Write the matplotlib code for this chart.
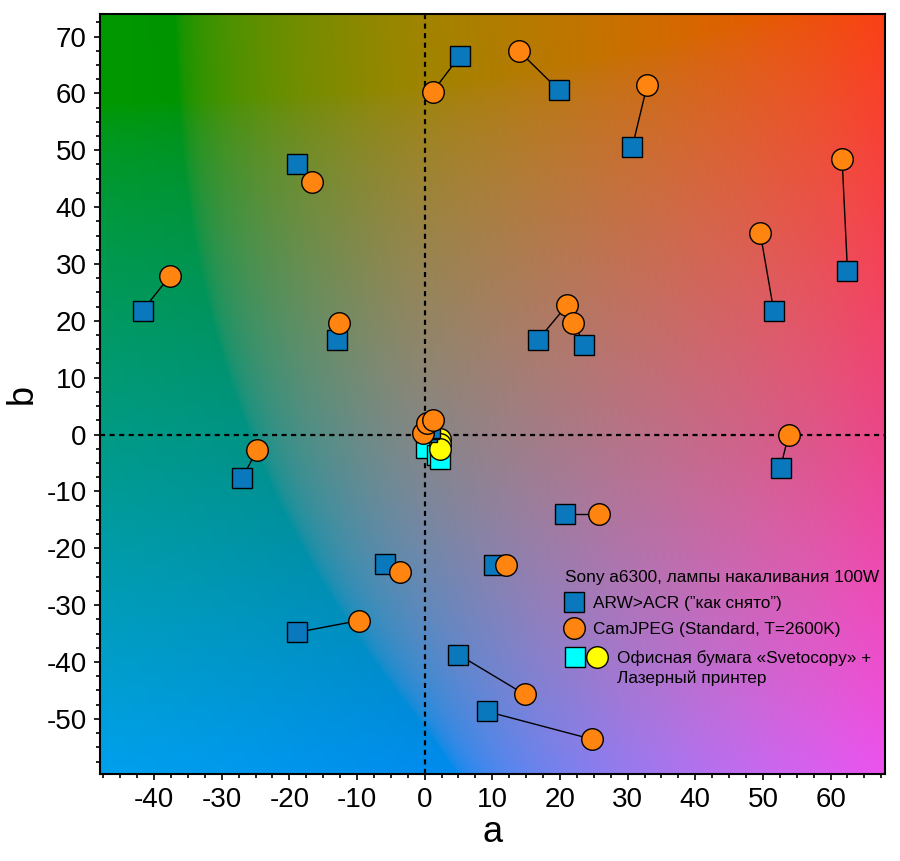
import numpy as np
import matplotlib
matplotlib.use("Agg")
import matplotlib.pyplot as plt
from matplotlib.lines import Line2D
from matplotlib.legend_handler import HandlerTuple
from matplotlib.ticker import MultipleLocator

plt.rcParams['font.family'] = ['Liberation Sans', 'DejaVu Sans']
plt.rcParams['axes.unicode_minus'] = False

# ARW>ACR (squares) and CamJPEG (circles), pairwise
arw_a = [5.2, 19.8, 30.7, -18.9, 62.5, 51.6, -41.7, -13.0, 16.8, 23.6, 52.6, -27.0, 20.8, -5.9, 10.2, -18.9, 5.0, 9.2, 0.3, 0.6, 0.8]
arw_b = [66.6, 60.6, 50.6, 47.5, 28.8, 21.8, 21.8, 16.7, 16.7, 15.8, -5.8, -7.7, -13.9, -22.7, -23.0, -34.8, -38.7, -48.7, 0.5, 1.0, 1.2]
jpg_a = [1.2, 13.9, 32.9, -16.7, 61.7, 49.6, -37.7, -12.7, 21.0, 22.0, 53.8, -24.8, 25.7, -3.7, 12.0, -9.7, 14.8, 24.8, -0.2, 0.3, 1.2]
jpg_b = [60.3, 67.5, 61.5, 44.5, 48.5, 35.5, 27.8, 19.7, 22.7, 19.7, 0.0, -2.8, -13.9, -24.1, -23.0, -32.7, -45.7, -53.6, 0.2, 2.0, 2.6]

# office paper + laser printer
paper_sq_a = [0.2, 1.8, 2.2]
paper_sq_b = [-2.3, -3.6, -4.3]
paper_ci_a = [2.2, 2.3, 2.2]
paper_ci_b = [-0.7, -1.6, -2.5]

xlim = (-48, 68)
ylim = (-59.7, 74)


def lab_to_rgb(L, a, b):
    fy = (L + 16) / 116.0
    fx = fy + a / 500.0
    fz = fy - b / 200.0
    d = 6 / 29.0
    finv = lambda t: np.where(t > d, t ** 3, 3 * d * d * (t - 4 / 29.0))
    X = 0.95047 * finv(fx)
    Y = finv(fy) * np.ones_like(a)
    Z = 1.08883 * finv(fz)
    r = 3.2406 * X - 1.5372 * Y - 0.4986 * Z
    g = -0.9689 * X + 1.8758 * Y + 0.0415 * Z
    bb = 0.0557 * X - 0.2040 * Y + 1.0570 * Z
    # the original background loses red faster on the green side,
    # and keeps more red on the magenta side
    r = r - 0.00265 * np.clip(-a, 0, None) * (1 + 0.004 * b)
    r = r + 7e-5 * np.clip(a, 0, None) * np.clip(-b, 0, None)
    bb = bb + 3e-6 * np.clip(a, 0, None) * np.clip(b, 0, None)
    rgb = np.clip(np.dstack([r, g, bb]), 0, 1)
    rgb = np.where(rgb <= 0.0031308, 12.92 * rgb, 1.055 * rgb ** (1 / 2.4) - 0.055)
    return np.clip(rgb, 0, 1)


ga, gb = np.meshgrid(np.linspace(xlim[0], xlim[1], 500), np.linspace(ylim[0], ylim[1], 500))
bg = lab_to_rgb(56.0, ga, gb)

fig = plt.figure(figsize=(9, 8.61), dpi=100)
ax = fig.add_axes([0.111, 0.101, 0.872, 0.883])
ax.imshow(bg, extent=(xlim[0], xlim[1], ylim[0], ylim[1]), origin='lower',
          aspect='auto', interpolation='bilinear', zorder=0)

ax.axhline(0, color='black', lw=1.6, dashes=(2.3, 2.0), zorder=1)
ax.axvline(0, color='black', lw=1.6, dashes=(2.3, 2.0), zorder=1)

for xa, ya, xb, yb in zip(arw_a, arw_b, jpg_a, jpg_b):
    ax.plot([xa, xb], [ya, yb], color='black', lw=1.0, zorder=3)

blue = '#0a78bd'
orange = '#ff8410'
ax.plot(paper_sq_a, paper_sq_b, 's', ms=14.5, mfc='#00ffff', mec='black', mew=1.0, ls='none', zorder=4)
ax.plot(paper_ci_a, paper_ci_b, 'o', ms=15.5, mfc='#ffff00', mec='black', mew=1.0, ls='none', zorder=5)
ax.plot(arw_a, arw_b, 's', ms=14.5, mfc=blue, mec='black', mew=1.0, ls='none', zorder=6)
ax.plot(jpg_a, jpg_b, 'o', ms=15.5, mfc=orange, mec='black', mew=1.0, ls='none', zorder=7)

ax.set_xlim(xlim)
ax.set_ylim(ylim)
ax.xaxis.set_major_locator(MultipleLocator(10))
ax.xaxis.set_minor_locator(MultipleLocator(2.5))
ax.yaxis.set_major_locator(MultipleLocator(10))
ax.yaxis.set_minor_locator(MultipleLocator(2.5))
ax.tick_params(which='major', direction='out', length=4.5, width=1.2, labelsize=20, pad=5)
ax.tick_params(which='minor', direction='out', length=3, width=1.2)
for s in ax.spines.values():
    s.set_linewidth(1.5)
ax.set_xlabel('a', fontsize=26, labelpad=1)
ax.set_ylabel('b', fontsize=26, labelpad=5)

fs = 12.4
h1 = Line2D([], [], marker='s', ms=14.5, mfc=blue, mec='black', mew=1.0, ls='none')
h2 = Line2D([], [], marker='o', ms=15.5, mfc=orange, mec='black', mew=1.0, ls='none')
leg1 = ax.legend([h1, h2], ['ARW>ACR (”как снято”)', 'CamJPEG (Standard, T=2600K)'],
                 title='Sony a6300, лампы накаливания 100W', title_fontsize=fs,
                 fontsize=fs, frameon=False, loc='upper left', bbox_to_anchor=(0.592, 0.268),
                 borderpad=0, borderaxespad=0, handlelength=1.16, handletextpad=0.5,
                 labelspacing=0.62, alignment='left')
ax.add_artist(leg1)

h3 = Line2D([], [], marker='s', ms=14.5, mfc='#00ffff', mec='black', mew=1.0, ls='none')
h4 = Line2D([], [], marker='o', ms=15.5, mfc='#ffff00', mec='black', mew=1.0, ls='none')
blank = Line2D([], [], ls='none')
ax.legend([(h3, h4), blank], ['Офисная бумага «Svetocopy» +', 'Лазерный принтер'],
          handler_map={tuple: HandlerTuple(ndivide=None, pad=0)},
          fontsize=fs, frameon=False, loc='upper left', bbox_to_anchor=(0.592, 0.163),
          borderpad=0, borderaxespad=0, handlelength=2.55, handletextpad=0.5,
          labelspacing=0.2, handleheight=0.9)

fig.savefig('out.png', dpi=100)
